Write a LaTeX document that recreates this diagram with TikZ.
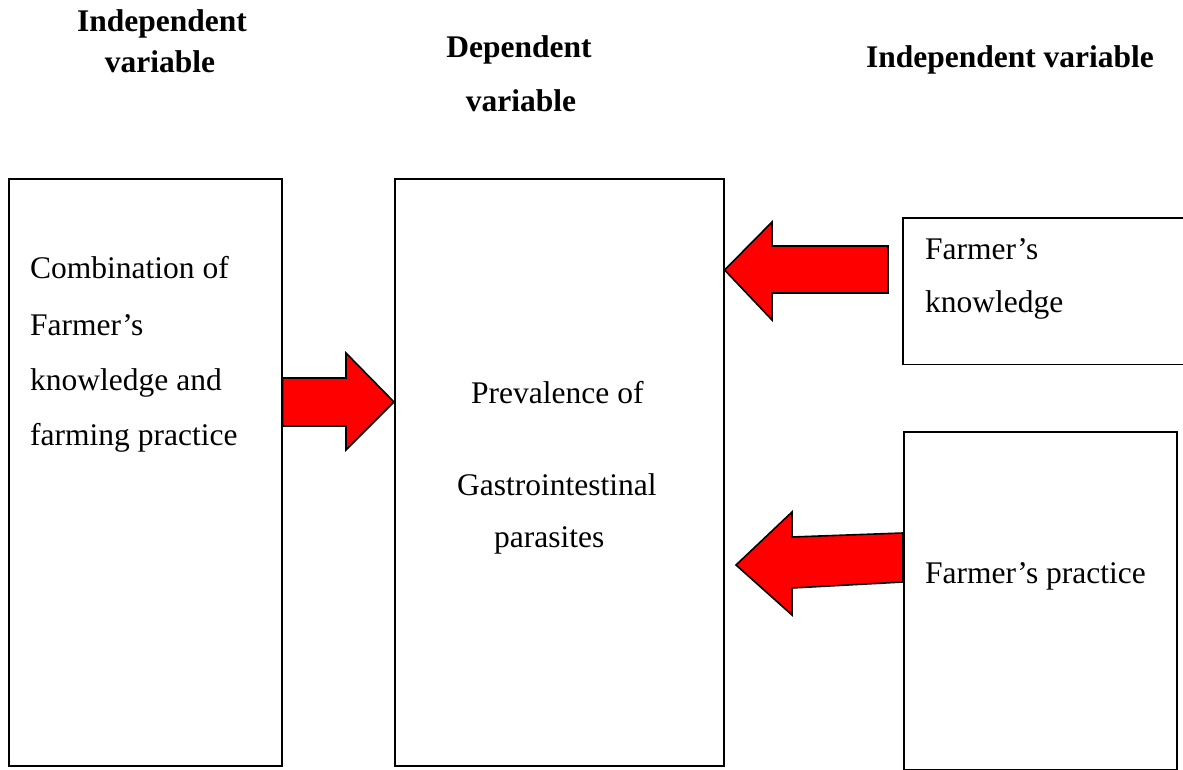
\documentclass[tikz,border=0pt]{standalone}
\usepackage{fontspec}
\setmainfont{Liberation Serif}
\tikzset{
  box/.style={draw=black, line width=1.6pt, rectangle, inner sep=0pt, anchor=north west},
  openbox/.style={draw=none, rectangle, inner sep=0pt, anchor=north west},
  body/.style={font=\fontsize{31.5}{38}\selectfont, inner sep=0pt, anchor=base west},
  head/.style={font=\fontsize{31.5}{38}\selectfont\bfseries, inner sep=0pt, anchor=base},
  blockarrow/.style={fill=red, draw=black, line width=1.6pt, line join=miter}
}
\begin{document}
\begin{tikzpicture}[x=1pt,y=-1pt]
\useasboundingbox (0,0) rectangle (1183,770);
% headers
\node[head] (h1a) at (162,32) {Independent};
\node[head] (h1b) at (160,73) {variable};
\node[head] (h2a) at (519,58) {Dependent};
\node[head] (h2b) at (521,112) {variable};
\node[head] (h3) at (1010,68) {Independent variable};
% boxes
\node[box, minimum width=273pt, minimum height=587pt] (left) at (8,178) {};
\node[box, minimum width=329pt, minimum height=587pt] (mid) at (394,178) {};
\node[openbox, minimum width=281pt, minimum height=146pt] (kn) at (903,218) {};
\draw[line width=1.6pt] (kn.north east) -- (kn.north west) -- (kn.south west) -- (kn.south east);
\node[box, minimum width=273pt, minimum height=338pt] (pr) at (903,431) {};
% texts
\node[body] (t1) at (30,278) {Combination of};
\node[body] (t2) at (30,335) {Farmer’s};
\node[body] (t3) at (30,390) {knowledge and};
\node[body] (t4) at (30,445) {farming practice};
\node[body] (m1) at (471,403) {Prevalence of};
\node[body] (m2) at (457,495) {Gastrointestinal};
\node[body] (m3) at (494,547) {parasites};
\node[body] (k1) at (925,259) {Farmer’s};
\node[body] (k2) at (925,312) {knowledge};
\node[body] (p1) at (925,583) {Farmer’s practice};
% block arrows
\coordinate (a1tip) at (mid.west |- 0,402);
\coordinate (a1tail) at (left.east |- 0,402);
\draw[blockarrow] ([yshift=24pt]a1tail) -- (346,378) -- (346,353) -- (a1tip) -- (346,450) -- (346,426) -- ([yshift=-24pt]a1tail) -- cycle;
\coordinate (a2tip) at (mid.east |- 0,270);
\draw[blockarrow] (a2tip) -- (772,222) -- (772,246) -- (888,246) -- (888,293) -- (772,293) -- (772,320) -- cycle;
\coordinate (a3tip) at (736,565);
\coordinate (a3tail) at (pr.west |- 0,558);
\draw[blockarrow] (a3tip) -- (792,512) -- (792,537) -- ([yshift=25pt]a3tail) -- ([yshift=-24pt]a3tail) -- (792,588) -- (792,615) -- cycle;
\end{tikzpicture}
\end{document}
